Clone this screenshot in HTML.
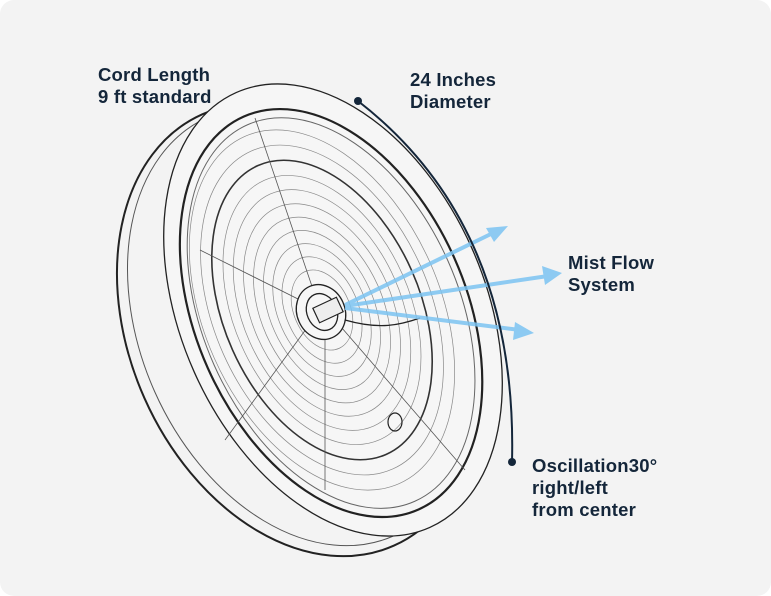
<!DOCTYPE html>
<html><head><meta charset="utf-8"><style>
html,body{margin:0;padding:0;background:#fff;}
.card{position:absolute;left:0;top:0;width:771px;height:596px;background:#f3f3f3;border-radius:14px;overflow:hidden;}
.t{position:absolute;font-family:"Liberation Sans",sans-serif;font-weight:bold;font-size:18.5px;line-height:22px;color:#14263a;letter-spacing:0.2px;}
svg{position:absolute;left:0;top:0;}
</style></head><body><div class="card">
<svg width="771" height="596" viewBox="0 0 771 596">
<g fill="none" stroke="#222">
 <g transform="rotate(-24 298 330)">
  <ellipse cx="298" cy="330" rx="168" ry="236" stroke-width="2"/>
  <ellipse cx="302" cy="328" rx="160" ry="229" stroke-width="1" stroke="#555"/>
 </g>
 <g transform="rotate(-24 333 310)">
  <ellipse cx="333" cy="310" rx="152" ry="238" fill="#f6f6f6" stroke-width="1.3"/>
  <ellipse cx="330" cy="312" rx="135" ry="215" stroke-width="2.2"/>
  <ellipse cx="330" cy="312" rx="128" ry="206" stroke-width="1" stroke="#666"/>
 </g>
 <g transform="rotate(-24 322 310)" stroke="#888" stroke-width="0.7">
  <ellipse cx="322" cy="310" rx="118" ry="190"/>
  <ellipse cx="322" cy="310" rx="108" ry="174"/>
  <ellipse cx="322" cy="310" rx="98" ry="158" stroke="#333" stroke-width="1.6"/>
  <ellipse cx="322" cy="310" rx="88" ry="142"/>
  <ellipse cx="322" cy="310" rx="79" ry="127"/>
  <ellipse cx="322" cy="310" rx="70" ry="112"/>
  <ellipse cx="322" cy="310" rx="61" ry="98"/>
  <ellipse cx="322" cy="310" rx="52" ry="84"/>
  <ellipse cx="322" cy="310" rx="44" ry="70"/>
  <ellipse cx="322" cy="310" rx="36" ry="56"/>
  <ellipse cx="322" cy="310" rx="28" ry="42"/>
 </g>
 <g stroke="#555" stroke-width="0.8">
  <line x1="320" y1="310" x2="255" y2="118"/>
  <line x1="320" y1="310" x2="200" y2="250"/>
  <line x1="320" y1="310" x2="225" y2="440"/>
  <line x1="335" y1="320" x2="465" y2="470"/>
  <line x1="325" y1="325" x2="325" y2="490"/>
 </g>
 <ellipse cx="321" cy="312" rx="24" ry="28" transform="rotate(-24 321 312)" fill="#f6f6f6" stroke-width="1.3"/>
 <ellipse cx="322" cy="312" rx="15" ry="19" transform="rotate(-24 322 312)" stroke-width="1.3"/>
 <rect x="315" y="302" width="26" height="16" transform="rotate(-25 328 310)" fill="#eee" stroke-width="1.2"/>
 <path d="M345 320 C380 330 400 325 420 318" stroke-width="1.3"/>
 <ellipse cx="395" cy="422" rx="7" ry="9" stroke-width="1.2"/>
</g>
<g stroke="#7cc4f2" stroke-width="4" fill="#7cc4f2" opacity="0.85">
 <line x1="345" y1="305" x2="495" y2="232"/>
 <polygon points="508,226 486,228 494,242" stroke="none"/>
 <line x1="345" y1="306" x2="548" y2="276"/>
 <polygon points="562,273 542,266 545,285" stroke="none"/>
 <line x1="345" y1="308" x2="520" y2="330"/>
 <polygon points="534,333 515,322 513,340" stroke="none"/>
</g>
<path d="M358 101 Q518 225 512 462" fill="none" stroke="#14263a" stroke-width="2"/>
<circle cx="358" cy="101" r="4" fill="#14263a"/>
<circle cx="512" cy="462" r="4" fill="#14263a"/>
</svg>
<div class="t" style="left:98px;top:64px">Cord Length<br>9 ft standard</div>
<div class="t" style="left:410px;top:69px">24 Inches<br>Diameter</div>
<div class="t" style="left:568px;top:252px">Mist Flow<br>System</div>
<div class="t" style="left:532px;top:455px">Oscillation30°<br>right/left<br>from center</div>
</div></body></html>
